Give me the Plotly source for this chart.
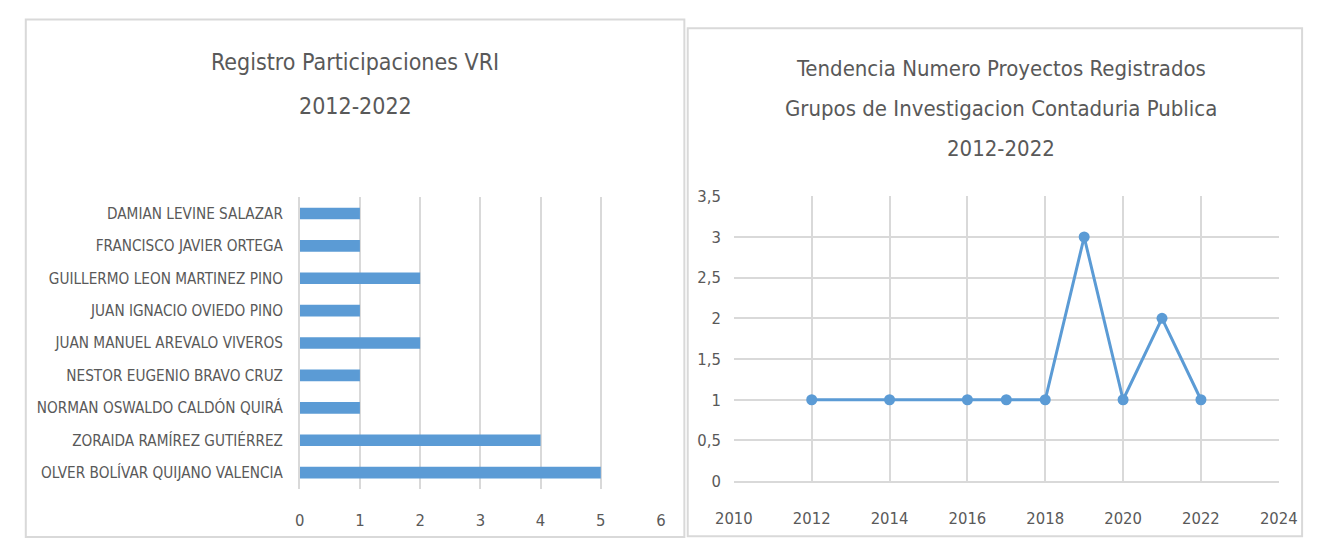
import plotly.graph_objects as go

# ---- data ----
names = [
    "DAMIAN LEVINE SALAZAR",
    "FRANCISCO JAVIER ORTEGA",
    "GUILLERMO LEON MARTINEZ PINO",
    "JUAN IGNACIO OVIEDO PINO",
    "JUAN MANUEL AREVALO VIVEROS",
    "NESTOR EUGENIO BRAVO CRUZ",
    "NORMAN OSWALDO CALDÓN QUIRÁ",
    "ZORAIDA RAMÍREZ GUTIÉRREZ",
    "OLVER BOLÍVAR QUIJANO VALENCIA",
]
participaciones = [1, 1, 2, 1, 2, 1, 1, 4, 5]

years = [2012, 2014, 2016, 2017, 2018, 2019, 2020, 2021, 2022]
proyectos = [1, 1, 1, 1, 1, 3, 1, 2, 1]

left_title_lines = ["Registro Participaciones VRI", "2012-2022"]
right_title_lines = ["Tendencia Numero Proyectos Registrados",
                     "Grupos de Investigacion Contaduria Publica",
                     "2012-2022"]

W, H = 1324, 550
FONT = "Liberation Sans Narrow, DejaVu Sans Condensed, sans-serif"
TXT = "#595959"
GRID = "#D9D9D9"
BLUE = "#5B9BD5"


def px(x):
    return x / W


def py(y):
    return 1 - y / H


fig = go.Figure()

fig.add_trace(go.Bar(
    x=participaciones, y=names, orientation="h",
    marker=dict(color=BLUE, line=dict(width=0)),
    width=0.36, xaxis="x", yaxis="y", showlegend=False,
))

fig.add_trace(go.Scatter(
    x=years, y=proyectos, mode="lines+markers",
    line=dict(color=BLUE, width=3),
    marker=dict(color=BLUE, size=11),
    xaxis="x2", yaxis="y2", showlegend=False,
))

annotations = []
for txt, y in zip(left_title_lines, [55, 100]):
    annotations.append(dict(
        text=txt, xref="paper", yref="paper", x=px(346), y=py(y),
        xanchor="center", yanchor="middle", showarrow=False,
        font=dict(size=23, color=TXT, family=FONT)))
for txt, y in zip(right_title_lines, [62, 103, 145]):
    annotations.append(dict(
        text=txt, xref="paper", yref="paper", x=px(1011), y=py(y),
        xanchor="center", yanchor="middle", showarrow=False,
        font=dict(size=22, color=TXT, family=FONT)))

fig.update_layout(
    width=W, height=H,
    margin=dict(l=0, r=0, t=0, b=0),
    paper_bgcolor="white", plot_bgcolor="white",
    separators=",.",
    font=dict(family=FONT, color=TXT, size=16),
    xaxis=dict(
        domain=[px(289), px(661)], range=[0, 6], dtick=1,
        showgrid=True, gridcolor=GRID, gridwidth=1.5,
        zeroline=False, showline=False, ticks="",
        ticklabelstandoff=20, tickfont=dict(size=16.5, color=TXT),
        fixedrange=True, anchor="y",
    ),
    yaxis=dict(
        domain=[py(497), py(195)], autorange="reversed",
        showgrid=False, zeroline=False,
        showline=True, linecolor=GRID, linewidth=1.5,
        ticks="", ticklabelstandoff=12,
        tickfont=dict(size=15.2, color=TXT),
        anchor="x",
    ),
    xaxis2=dict(
        domain=[px(736), px(1297)], range=[2010, 2024], dtick=2,
        showgrid=True, gridcolor=GRID, gridwidth=2,
        zeroline=False, showline=True, linecolor=GRID, linewidth=2,
        ticks="", ticklabelstandoff=21, tickfont=dict(size=16.5, color=TXT),
        anchor="y2",
    ),
    yaxis2=dict(
        domain=[py(489), py(194)], range=[0, 3.5], dtick=0.5,
        showgrid=True, gridcolor=GRID, gridwidth=2,
        zeroline=False, showline=False,
        ticks="", ticklabelstandoff=12, tickfont=dict(size=16.5, color=TXT),
        anchor="x2",
    ),
    shapes=[
        dict(type="rect", xref="paper", yref="paper",
             x0=px(7), x1=px(685), y0=py(547), y1=py(11),
             line=dict(color=GRID, width=2), fillcolor="rgba(0,0,0,0)"),
        dict(type="rect", xref="paper", yref="paper",
             x0=px(688.5), x1=px(1321), y0=py(546), y1=py(20),
             line=dict(color=GRID, width=2), fillcolor="rgba(0,0,0,0)"),
    ],
    annotations=annotations,
)

# remove the page's default body margin so the figure sits at the window corner
fig.write_html(
    "out.html",
    config={"displayModeBar": False},
    post_script=("document.body.style.margin='0';"
                 "document.body.style.overflow='hidden';"),
)
